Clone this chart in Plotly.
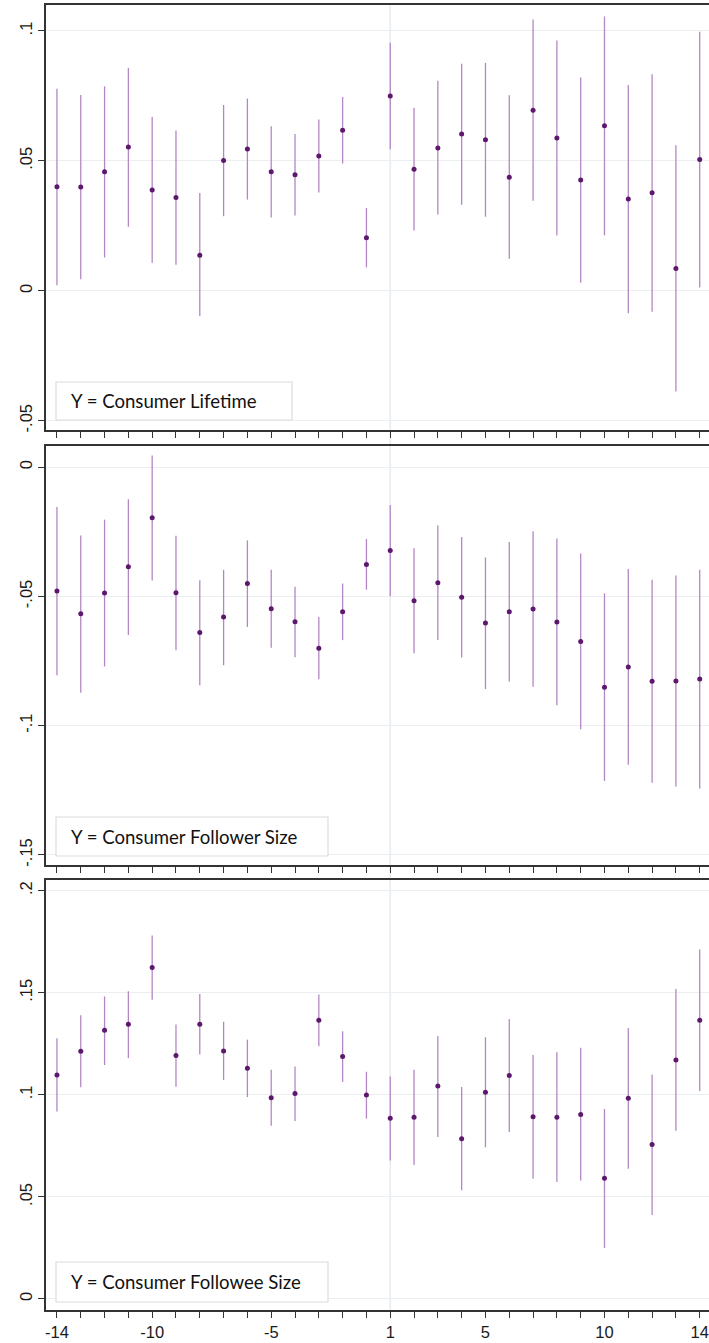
import plotly.graph_objects as go

# ---------------- data ----------------
event_time = [-14, -13, -12, -11, -10, -9, -8, -7, -6, -5, -4, -3, -2, -1,
              1, 2, 3, 4, 5, 6, 7, 8, 9, 10, 11, 12, 13, 14]
tick_labels_shown = ["-14", "-10", "-5", "1", "5", "10", "14"]

lifetime_est = [0.0400, 0.0399, 0.0458, 0.0553, 0.0388, 0.0359, 0.0137, 0.0501, 0.0546, 0.0458,
                0.0447, 0.0519, 0.0618, 0.0204, 0.0750, 0.0468, 0.0550, 0.0603, 0.0581, 0.0437,
                0.0695, 0.0588, 0.0426, 0.0635, 0.0353, 0.0377, 0.0086, 0.0505]
lifetime_hi = [0.0778, 0.0754, 0.0787, 0.0858, 0.0669, 0.0617, 0.0376, 0.0715, 0.0740, 0.0633,
               0.0603, 0.0659, 0.0746, 0.0319, 0.0955, 0.0704, 0.0808, 0.0874, 0.0877, 0.0753,
               0.1044, 0.0963, 0.0821, 0.1056, 0.0792, 0.0833, 0.0560, 0.0997]
lifetime_lo = [0.0021, 0.0044, 0.0128, 0.0246, 0.0108, 0.0100, -0.0097, 0.0287, 0.0351, 0.0282,
               0.0290, 0.0378, 0.0490, 0.0090, 0.0545, 0.0232, 0.0294, 0.0331, 0.0285, 0.0123,
               0.0346, 0.0213, 0.0031, 0.0213, -0.0087, -0.0081, -0.0388, 0.0013]

follower_est = [-0.0479, -0.0567, -0.0487, -0.0385, -0.0196, -0.0486, -0.0640, -0.0580, -0.0450, -0.0548,
                -0.0598, -0.0700, -0.0559, -0.0376, -0.0322, -0.0517, -0.0447, -0.0503, -0.0603, -0.0559,
                -0.0549, -0.0599, -0.0674, -0.0851, -0.0773, -0.0828, -0.0827, -0.0819]
follower_hi = [-0.0154, -0.0264, -0.0203, -0.0124, 0.0045, -0.0265, -0.0437, -0.0397, -0.0283, -0.0397,
               -0.0463, -0.0580, -0.0450, -0.0278, -0.0146, -0.0314, -0.0226, -0.0270, -0.0349, -0.0289,
               -0.0248, -0.0276, -0.0334, -0.0488, -0.0394, -0.0435, -0.0419, -0.0397]
follower_lo = [-0.0805, -0.0873, -0.0771, -0.0649, -0.0438, -0.0708, -0.0844, -0.0766, -0.0618, -0.0699,
               -0.0735, -0.0820, -0.0669, -0.0474, -0.0499, -0.0720, -0.0669, -0.0736, -0.0858, -0.0829,
               -0.0849, -0.0921, -0.1014, -0.1214, -0.1151, -0.1221, -0.1235, -0.1243]

followee_est = [0.1097, 0.1213, 0.1316, 0.1345, 0.1623, 0.1192, 0.1345, 0.1215, 0.1130, 0.0986,
                0.1006, 0.1365, 0.1187, 0.0999, 0.0885, 0.0890, 0.1043, 0.0785, 0.1012, 0.1094,
                0.0893, 0.0890, 0.0904, 0.0591, 0.0983, 0.0756, 0.1171, 0.1365]
followee_hi = [0.1277, 0.1389, 0.1482, 0.1507, 0.1780, 0.1344, 0.1494, 0.1358, 0.1270, 0.1123,
               0.1138, 0.1491, 0.1311, 0.1113, 0.1090, 0.1123, 0.1288, 0.1038, 0.1282, 0.1371,
               0.1195, 0.1208, 0.1231, 0.0931, 0.1327, 0.1100, 0.1518, 0.1711]
followee_lo = [0.0918, 0.1037, 0.1146, 0.1180, 0.1466, 0.1040, 0.1197, 0.1073, 0.0989, 0.0849,
               0.0872, 0.1238, 0.1063, 0.0883, 0.0678, 0.0656, 0.0793, 0.0532, 0.0743, 0.0818,
               0.0589, 0.0573, 0.0580, 0.0250, 0.0638, 0.0411, 0.0824, 0.1019]

panel_titles = ["Y = Consumer Lifetime", "Y = Consumer Follower Size", "Y = Consumer Followee Size"]
y_tickvals = [[-0.05, 0, 0.05, 0.1], [-0.15, -0.1, -0.05, 0], [0, 0.05, 0.1, 0.15, 0.2]]
y_ticktext = [["-.05", "0", ".05", ".1"], ["-.15", "-.1", "-.05", "0"], ["0", ".05", ".1", ".15", ".2"]]
y_ranges = [[-0.0536, 0.110], [-0.1539, 0.0082], [-0.0054, 0.2052]]

# ---------------- layout helpers ----------------
W, H = 709, 1343
ML, MR, MT, MB = 46, 0, 5, 33
PH = H - MT - MB
panel_px = [(5, 430), (446, 865), (880, 1310)]   # top, bottom pixel rows
box_px = [(56, 292, 382, 420), (56, 328, 817, 856), (56, 328, 1262, 1302)]

def ypaper(py):
    return 1 - (py - MT) / PH

pos = list(range(len(event_time)))
label_pos = [pos[event_time.index(int(t))] for t in tick_labels_shown]
all_ticktext = [tick_labels_shown[label_pos.index(p)] if p in label_pos else "" for p in pos]

MARKER = "#5d176c"
ERR = "#b387c4"
AX = "#333333"
GRID = "#eceff2"
FONT_TICK = dict(family="Liberation Sans, Arial, sans-serif", size=16.5, color="#1a1a1a")

fig = go.Figure()
series = [(lifetime_est, lifetime_lo, lifetime_hi),
          (follower_est, follower_lo, follower_hi),
          (followee_est, followee_lo, followee_hi)]

for i, (est, lo, hi) in enumerate(series):
    n = i + 1
    xa = "x" if n == 1 else f"x{n}"
    ya = "y" if n == 1 else f"y{n}"
    fig.add_trace(go.Scatter(
        x=pos, y=est, mode="markers", xaxis=xa, yaxis=ya,
        marker=dict(color=MARKER, size=5),
        error_y=dict(type="data", symmetric=False,
                     array=[h - e for h, e in zip(hi, est)],
                     arrayminus=[e - l for e, l in zip(est, lo)],
                     color=ERR, thickness=1.3, width=0),
        showlegend=False))

    top, bot = panel_px[i]
    xkey = "xaxis" if n == 1 else f"xaxis{n}"
    ykey = "yaxis" if n == 1 else f"yaxis{n}"
    fig.update_layout({
        xkey: dict(domain=[0, 1], anchor=ya, range=[-0.46, 27.39],
                   tickmode="array", tickvals=pos, ticktext=all_ticktext,
                   showticklabels=(n == 3), ticks="outside", ticklen=6,
                   tickwidth=1.2, tickcolor=AX, showgrid=False, zeroline=False,
                   showline=True, linecolor=AX, linewidth=1.5, mirror=True,
                   tickfont=FONT_TICK),
        ykey: dict(domain=[ypaper(bot), ypaper(top)], anchor=xa, range=y_ranges[i],
                   tickmode="array", tickvals=y_tickvals[i], ticktext=y_ticktext[i],
                   tickangle=-90, ticks="outside", ticklen=6, tickwidth=1.2,
                   tickcolor=AX, showgrid=True, gridcolor=GRID, gridwidth=1.2,
                   zeroline=False, showline=True, linecolor=AX, linewidth=1.5,
                   tickfont=FONT_TICK),
    })

    # label box
    x0, x1, y0, y1 = box_px[i]
    fig.add_shape(type="rect", xref="paper", yref="paper",
                  x0=(x0 - ML) / (W - ML - MR), x1=(x1 - ML) / (W - ML - MR),
                  y0=ypaper(y1), y1=ypaper(y0),
                  line=dict(color="#dcdcdc", width=1.2), fillcolor="white", layer="above")
    fig.add_annotation(xref="paper", yref="paper",
                       x=(69 - ML) / (W - ML - MR), y=ypaper((y0 + y1) / 2),
                       xanchor="left", yanchor="middle", showarrow=False,
                       text=panel_titles[i],
                       font=dict(family="Lato, Carlito, sans-serif", size=18.6, color="#111111"))

# vertical reference line at event time 1
fig.add_shape(type="line", xref="x", yref="paper",
              x0=pos[event_time.index(1)], x1=pos[event_time.index(1)], y0=0, y1=1,
              line=dict(color="#e6ecf0", width=1.5), layer="below")

fig.update_layout(width=W, height=H, margin=dict(l=ML, r=MR, t=MT, b=MB),
                  paper_bgcolor="white", plot_bgcolor="white")

fig.write_html("out.html")
